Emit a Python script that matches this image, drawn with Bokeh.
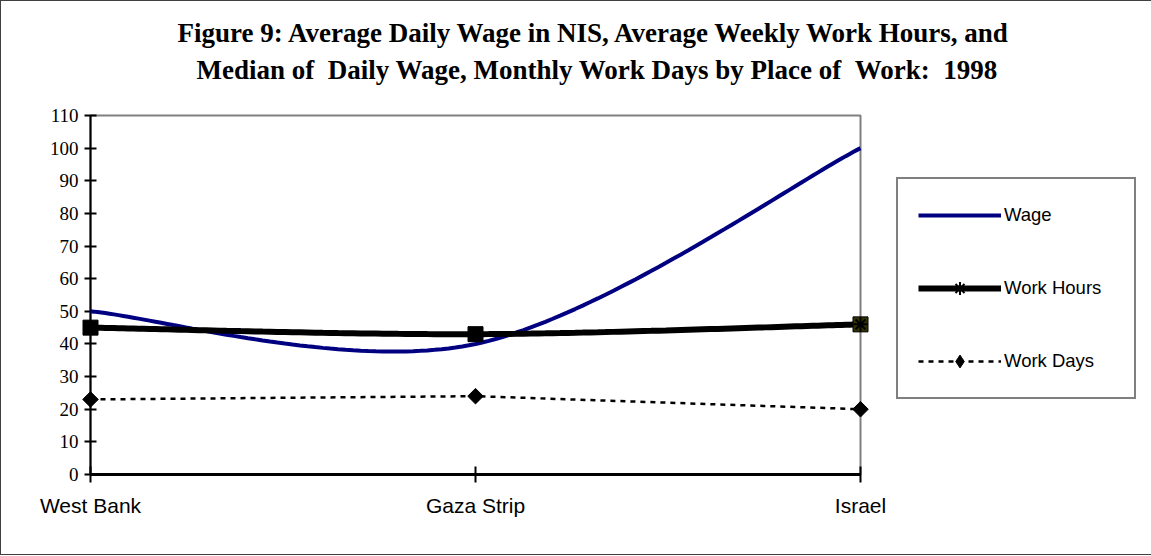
import numpy as np
from bokeh.plotting import figure
from bokeh.models import Range1d, FixedTicker, Legend, LegendItem, Title, ColumnDataSource
from bokeh.embed import file_html
from bokeh.resources import INLINE

# ---- data ----
places = ["West Bank", "Gaza Strip", "Israel"]
wage = [50, 40, 100]
work_hours = [45, 43, 46]
work_days = [23, 24, 20]
y_ticks = list(range(0, 111, 10))
title_lines = [
    "Figure 9: Average Daily Wage in NIS, Average Weekly Work Hours, and",
    "Median of  Daily Wage, Monthly Work Days by Place of  Work:  1998",
]

xs = list(range(len(places)))


def excel_smooth(xv, yv, n=60):
    """Excel-style smoothed line: cubic Bezier segments through the data points."""
    P = np.column_stack([xv, yv]).astype(float)
    out_x, out_y = [], []
    t = np.linspace(0, 1, n)[:, None]
    for i in range(len(P) - 1):
        p0 = P[i - 1] if i > 0 else P[i]
        p1, p2 = P[i], P[i + 1]
        p3 = P[i + 2] if i + 2 < len(P) else P[i + 1]
        c1 = p1 + (p2 - p0) / 6.0
        c2 = p2 - (p3 - p1) / 6.0
        B = (1 - t) ** 3 * p1 + 3 * (1 - t) ** 2 * t * c1 + 3 * (1 - t) * t ** 2 * c2 + t ** 3 * p2
        out_x.extend(B[:, 0].tolist())
        out_y.extend(B[:, 1].tolist())
    return out_x, out_y


wx, wy = excel_smooth(xs, wage)
hx, hy = excel_smooth(xs, work_hours)

p = figure(
    frame_width=770, frame_height=359,
    output_backend="svg", toolbar_location=None,
    x_range=Range1d(0, len(places) - 1), y_range=Range1d(0, 110),
    min_border_left=89, min_border_right=289, min_border_top=114, min_border_bottom=80,
    background_fill_color="white", border_fill_color="white",
)
p.styles = {"border": "1px solid #404040"}
p.xgrid.visible = False
p.ygrid.visible = False
p.outline_line_color = "#808080"
p.outline_line_width = 2

# axes
p.yaxis.ticker = FixedTicker(ticks=y_ticks)
p.yaxis.axis_line_color = "black"
p.yaxis.axis_line_width = 2
p.yaxis.major_tick_line_color = "black"
p.yaxis.major_tick_line_width = 2
p.yaxis.major_tick_in = 6
p.yaxis.major_tick_out = 6
p.yaxis.minor_tick_line_color = None
p.yaxis.major_label_text_font = "Liberation Serif"
p.yaxis.major_label_text_font_size = "19px"
p.yaxis.major_label_text_color = "black"
p.yaxis.major_label_standoff = 6

p.xaxis.ticker = FixedTicker(ticks=xs)
p.xaxis.major_label_overrides = {i: name for i, name in zip(xs, places)}
p.xaxis.axis_line_color = "black"
p.xaxis.axis_line_width = 3
p.xaxis.major_tick_line_color = "black"
p.xaxis.major_tick_line_width = 2
p.xaxis.major_tick_in = 8
p.xaxis.major_tick_out = 8
p.xaxis.minor_tick_line_color = None
p.xaxis.major_label_text_font = "Liberation Sans"
p.xaxis.major_label_text_font_size = "21px"
p.xaxis.major_label_text_color = "black"
p.xaxis.major_label_standoff = 11

# series
src = ColumnDataSource(dict(x=xs, wage=wage, hours=work_hours, days=work_days,
                            hfill=["black", "black", "#333300"]))

wage_r = p.line(wx, wy, line_color="#000080", line_width=4, level="overlay")

days_line = p.line("x", "days", source=src, line_color="black", line_width=2.5, line_dash="5 5",
                   level="overlay")
# diamond used for the legend key (hidden under the wider rotated squares in the plot)
days_key = p.scatter("x", "days", source=src, marker="diamond", size=13,
                     fill_color="black", line_color="black", level="overlay")
days_pts = p.scatter("x", "days", source=src, marker="square", angle=np.pi / 4, size=11,
                     fill_color="black", line_color="black", level="overlay")

hours_line = p.line(hx, hy, line_color="black", line_width=6, level="overlay")
hours_sq = p.scatter("x", "hours", source=src, marker="square", size=15,
                     fill_color="hfill", line_color="black", line_width=1, level="overlay")
hours_ast = p.scatter("x", "hours", source=src, marker="asterisk", size=14,
                      line_color="black", line_width=2, level="overlay")

legend = Legend(
    items=[
        LegendItem(label="Wage", renderers=[wage_r]),
        LegendItem(label="Work Hours", renderers=[hours_line, hours_ast]),
        LegendItem(label="Work Days", renderers=[days_line, days_key]),
    ],
    location=(36, 75),
    orientation="vertical",
    border_line_color="black", border_line_width=2,
    background_fill_color="white", background_fill_alpha=1,
    label_text_font="Liberation Sans", label_text_font_size="18.5px", label_text_color="black",
    glyph_width=83, glyph_height=32, label_height=32, label_width=110,
    label_standoff=3, spacing=41, padding=20, margin=0,
)
p.add_layout(legend, "right")

# spacer between plot frame and the two-line title
p.add_layout(Title(text=" ", text_font_size="1px", standoff=26), "above")
# title (second line added first so it sits nearest the plot)
offsets = [87, 106]
standoffs = [5, 4]
for line, off, so in reversed(list(zip(title_lines, offsets, standoffs))):
    p.add_layout(Title(
        text=line.replace("  ", " \u00a0"), align="left", offset=off,
        text_font="Liberation Serif", text_font_style="bold", text_font_size="27px",
        text_color="black", standoff=so,
    ), "above")

open("out.html", "w").write(file_html(p, INLINE))
